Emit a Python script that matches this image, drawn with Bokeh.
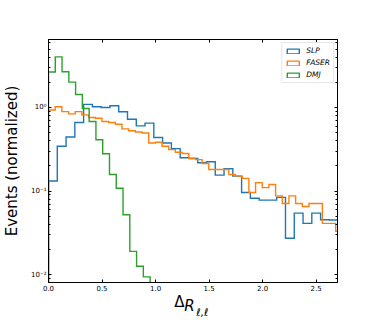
import numpy as np
from bokeh.plotting import figure
from bokeh.models import (Range1d, LinearAxis, LogAxis, FixedTicker, CustomJSTickFormatter,
                          Legend, LegendItem, ColumnDataSource)
from bokeh.embed import file_html
from bokeh.resources import INLINE

# ---------------- data ----------------
series_names = ["SLP", "FASER", "DMJ"]

slp_bin_width = 0.0820
slp_values = [0.132, 0.343, 0.443, 0.66, 1.09, 1.02, 1.0, 1.05, 0.89, 0.724,
              0.603, 0.649, 0.438, 0.376, 0.322, 0.25, 0.245, 0.218, 0.224, 0.155,
              0.185, 0.151, 0.096, 0.082, 0.078, 0.078, 0.084, 0.0273, 0.0545, 0.0411,
              0.0545, 0.0454, 0.045]

faser_bin_width = 0.0624
faser_values = [0.934, 1.02, 0.892, 0.837, 0.892, 0.815, 0.757, 0.744, 0.679, 0.66,
                0.63, 0.555, 0.526, 0.508, 0.494, 0.376, 0.383, 0.343, 0.313, 0.291,
                0.281, 0.247, 0.238, 0.214, 0.181, 0.181, 0.181, 0.158, 0.151, 0.142,
                0.096, 0.126, 0.110, 0.120, 0.0875, 0.071, 0.0875, 0.071, 0.0655, 0.071,
                0.071, 0.0411, 0.0411, 0.0331]

dmj_bin_width = 0.0633
dmj_values = [2.66, 4.03, 2.67, 2.01, 1.43, 0.97, 0.678, 0.411, 0.279, 0.158,
              0.108, 0.052, 0.019, 0.0126, 0.0094]

x_ticks = [0.0, 0.5, 1.0, 1.5, 2.0, 2.5]
x_tick_labels = ["0.0", "0.5", "1.0", "1.5", "2.0", "2.5"]
y_ticks = [0.01, 0.1, 1.0]
y_tick_labels = ["10\u207b\u00b2", "10\u207b\u00b9", "10\u2070"]
y_minor_ticks = [m * 10.0 ** e for e in (-3, -2, -1, 0) for m in range(2, 10)]

y_label = "Events (normalized)"
x_label_parts = ["\u0394", "R", "\u2113,\u2113"]   # \Delta R_{\ell,\ell}

colors = ["#1f77b4", "#ff7f0e", "#2ca02c"]
FONT = "DejaVu Sans"
FLOOR = 1e-4


def outline(width, values):
    v = np.asarray(values, dtype=float)
    edges = np.arange(len(v) + 1) * width
    xs = np.repeat(edges, 2)
    ys = np.concatenate([[FLOOR], np.repeat(v, 2), [FLOOR]])
    return edges, v, xs, ys


p = figure(width=374, height=320, output_backend="svg", toolbar_location=None,
           y_axis_type="log", x_range=Range1d(0, 2.7), y_range=Range1d(0.00806, 6.5),
           min_border_left=47, min_border_right=37, min_border_top=39, min_border_bottom=36)
p.grid.visible = False
p.outline_line_color = "black"
p.outline_line_width = 1
p.background_fill_color = "white"
p.border_fill_color = "white"

proxies = []
for (w, vals), c in zip([(slp_bin_width, slp_values), (faser_bin_width, faser_values),
                         (dmj_bin_width, dmj_values)], colors):
    edges, v, xs, ys = outline(w, vals)
    p.line(xs, ys, line_color=c, line_width=1.4, line_join="miter")
    # hidden outlined-box proxy (first bin of the same series) used only for the legend swatch
    src = ColumnDataSource(dict(left=edges[:1], right=edges[1:2], top=v[:1], bottom=[FLOOR]))
    proxies.append(p.quad(left="left", right="right", top="top", bottom="bottom", source=src,
                          fill_alpha=0, line_color=c, line_width=1.4, visible=False))

legend = Legend(items=[LegendItem(label=n, renderers=[r]) for n, r in zip(series_names, proxies)],
                location="top_right", margin=3, padding=3, spacing=3,
                glyph_width=15, glyph_height=6, label_height=8, label_standoff=6,
                label_text_font=FONT, label_text_font_size="7.5px", label_text_font_style="italic",
                label_text_color="black",
                border_line_color="#cccccc", border_line_width=1,
                background_fill_color="white", background_fill_alpha=0.8)
p.add_layout(legend)

xfmt = CustomJSTickFormatter(args=dict(tv=x_ticks, labels=x_tick_labels), code="""
const i = tv.findIndex(t => Math.abs(t - tick) < 1e-9);
return i >= 0 ? labels[i] : "";
""")
yfmt = CustomJSTickFormatter(args=dict(tv=y_ticks, labels=y_tick_labels), code="""
const i = tv.findIndex(t => Math.abs(Math.log10(t) - Math.log10(tick)) < 1e-6);
return i >= 0 ? labels[i] : "";
""")
blank = CustomJSTickFormatter(code='return "";')

top_axis = LinearAxis()
right_axis = LogAxis()
p.add_layout(top_axis, "above")
p.add_layout(right_axis, "right")

bottom_axis = p.below[0]
left_axis = p.left[0]
for ax in (bottom_axis, top_axis):
    ax.ticker = FixedTicker(ticks=x_ticks, minor_ticks=[])
for ax in (left_axis, right_axis):
    ax.ticker = FixedTicker(ticks=y_ticks, minor_ticks=y_minor_ticks)
bottom_axis.formatter = xfmt
left_axis.formatter = yfmt
top_axis.formatter = blank
right_axis.formatter = blank

for ax in (bottom_axis, top_axis, left_axis, right_axis):
    ax.axis_line_color = "black"
    ax.axis_line_width = 1
    ax.major_tick_in = 3
    ax.major_tick_out = 0
    ax.minor_tick_in = 2
    ax.minor_tick_out = 0
    ax.major_tick_line_color = "black"
    ax.minor_tick_line_color = "black"
    ax.major_label_text_font = FONT
    ax.major_label_text_font_size = "7px"
    ax.major_label_text_color = "black"
    ax.major_label_standoff = 2

left_axis.axis_label = y_label
left_axis.axis_label_text_font = FONT
left_axis.axis_label_text_font_size = "15px"
left_axis.axis_label_text_font_style = "normal"
left_axis.axis_label_text_color = "black"
left_axis.axis_label_standoff = 7


# x-axis label \Delta R_{\ell,\ell}: three text pieces, each carried by a tick-less axis strip
def label_strip(pos, text, size, style, standoff):
    ax = LinearAxis(ticker=FixedTicker(ticks=[pos], minor_ticks=[]),
                    formatter=CustomJSTickFormatter(args=dict(t=text), code="return t;"),
                    axis_line_color=None, major_tick_line_color=None, minor_tick_line_color=None,
                    major_tick_in=0, major_tick_out=0, minor_tick_in=0, minor_tick_out=0,
                    major_label_standoff=standoff, major_label_text_font=FONT,
                    major_label_text_font_size=size, major_label_text_font_style=style,
                    major_label_text_color="black")
    p.add_layout(ax, "below")


label_strip(1.222, x_label_parts[0], "15px", "normal", -1)
label_strip(1.318, x_label_parts[1], "15px", "italic", -17)
label_strip(1.437, x_label_parts[2], "10.5px", "italic", -12)

open("out.html", "w").write(file_html(p, INLINE))
